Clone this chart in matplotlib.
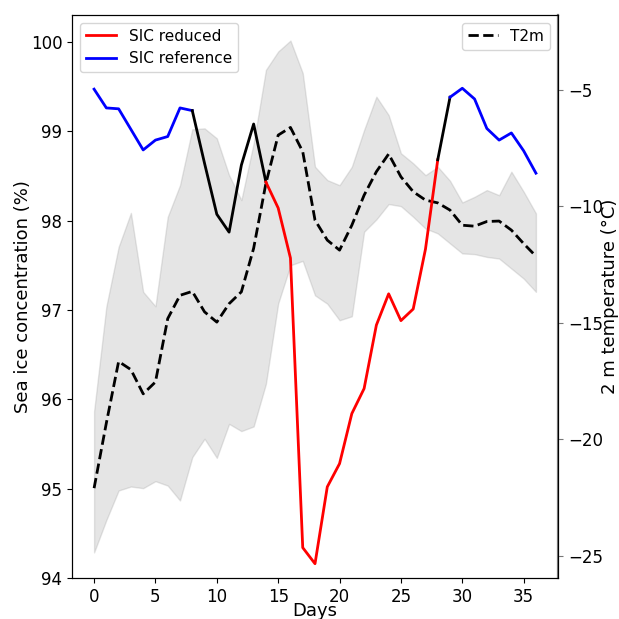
import numpy as np
import matplotlib
matplotlib.use("Agg")
import matplotlib.pyplot as plt
from matplotlib.lines import Line2D

days = np.arange(37)

# Sea ice concentration (%) along the run
sic = [99.47, 99.26, 99.25, 99.02, 98.79, 98.90, 98.94, 99.26, 99.23,
       98.64, 98.07, 97.87, 98.62, 99.08, 98.43, 98.14, 97.58, 94.34,
       94.16, 95.02, 95.28, 95.84, 96.12, 96.83, 97.18, 96.88, 97.01,
       97.68, 98.68, 99.38, 99.48, 99.36, 99.03, 98.90, 98.98, 98.78, 98.53]

# segments: (start day, end day, kind)
segments = [(0, 8, "reference"), (8, 14, "both"), (14, 28, "reduced"),
            (28, 29, "both"), (29, 36, "reference")]

# 2 m temperature (°C): mean, min, max
t2m = [-22.1, -19.3, -16.66, -17.01, -18.05, -17.54, -14.82, -13.82, -13.65,
       -14.53, -14.97, -14.18, -13.67, -11.8, -9.01, -6.94, -6.61, -7.65,
       -10.59, -11.45, -11.88, -10.81, -9.52, -8.51, -7.75, -8.73, -9.37,
       -9.73, -9.85, -10.16, -10.81, -10.85, -10.65, -10.63, -11.02, -11.6, -12.14]
t2m_max = [-18.8, -14.3, -11.74, -10.28, -13.67, -14.29, -10.45, -9.09, -6.69,
           -6.65, -7.08, -8.66, -9.73, -7.29, -4.14, -3.35, -2.88, -4.28,
           -8.3, -8.87, -9.09, -8.3, -6.72, -5.29, -6.08, -7.72, -8.15,
           -8.66, -8.3, -8.9, -9.83, -9.59, -9.3, -9.52, -8.51, -9.37, -10.3]
t2m_min = [-24.86, -23.47, -22.2, -22.03, -22.1, -21.8, -21.99, -22.63, -20.77,
           -19.98, -20.8, -19.34, -19.65, -19.45, -17.62, -14.17, -12.53, -12.34,
           -13.82, -14.18, -14.89, -14.72, -11.09, -10.56, -9.9, -9.99, -10.45,
           -10.95, -11.16, -11.59, -12.02, -12.05, -12.17, -12.24, -12.67, -13.1, -13.67]

colors = {"reference": "blue", "reduced": "red", "both": "black"}

fig = plt.figure(figsize=(6.19, 6.19), dpi=100)
ax1 = fig.add_axes([0.1163, 0.0662, 0.7852, 0.9096])
ax2 = ax1.twinx()

ax2.fill_between(days, t2m_min, t2m_max, color="gray", alpha=0.2)
ax2.plot(days, t2m, "k--", lw=2, label="T2m")

for s, e, kind in segments:
    ax1.plot(days[s:e + 1], sic[s:e + 1], color=colors[kind], lw=2)

ax1.set_zorder(ax2.get_zorder() + 1)
ax1.patch.set_visible(False)

ax1.set_ylim(94, 100.3)
ax1.set_xlim(-1.8, 37.8)
ax1.set_yticks([94, 95, 96, 97, 98, 99, 100])
ax1.set_xticks([0, 5, 10, 15, 20, 25, 30, 35])
ax1.set_xlabel("Days", fontsize=13, labelpad=-3)
ax1.set_ylabel("Sea ice concentration (%)", fontsize=13, labelpad=-1)
ax2.set_ylabel("2 m temperature (°C)", fontsize=13, labelpad=-1)
ax1.tick_params(labelsize=12)
ax2.tick_params(labelsize=12, colors="#777777", labelcolor="black")
ax2.spines["right"].set_color("#777777")
ax2.spines["right"].set_linewidth(1.6)

handles = [Line2D([], [], color="red", lw=2), Line2D([], [], color="blue", lw=2)]
ax1.legend(handles, ["SIC reduced", "SIC reference"], loc="upper left", fontsize=11)
ax2.legend(loc="upper right", fontsize=11)

fig.savefig("out.png", dpi=100)
